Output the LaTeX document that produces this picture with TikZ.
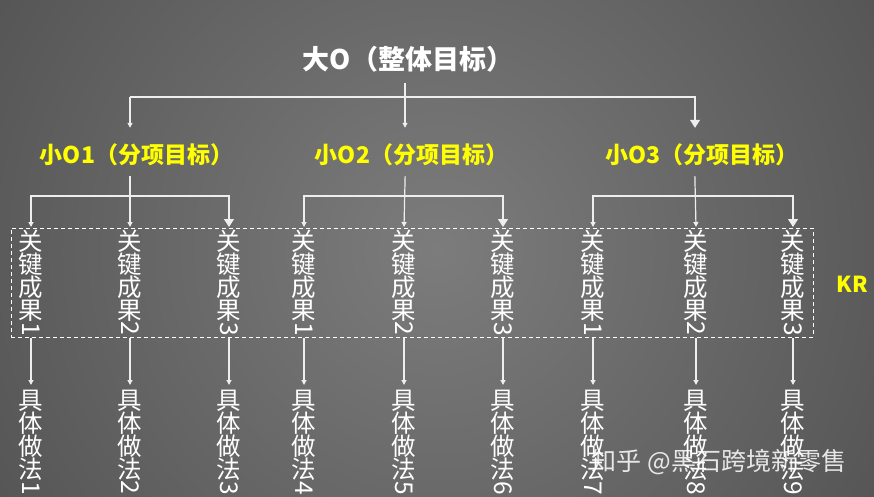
\documentclass[tikz,border=0pt]{standalone}
\usepackage{fontspec}
\setmainfont{Noto Sans CJK SC}
\usetikzlibrary{arrows.meta}
\definecolor{c0}{HTML}{7C7C7C}
\definecolor{c1}{HTML}{565656}
\definecolor{c2}{HTML}{232323}
\definecolor{c3}{HTML}{141414}
\definecolor{ylw}{RGB}{255,255,0}
\definecolor{lnc}{RGB}{238,238,238}
\pgfdeclareradialshading{bgshade}{\pgfpoint{0bp}{0bp}}{color(0bp)=(c0); color(25bp)=(c1); color(44bp)=(c2); color(50bp)=(c3)}
\newcommand{\vkr}[1]{关\\键\\成\\果\\[-5pt]\rotatebox[origin=c]{-90}{#1}}
\newcommand{\vzf}[1]{具\\体\\做\\法\\[-5pt]\rotatebox[origin=c]{-90}{#1}}
\tikzset{
  ttl/.style={inner sep=0pt, minimum height=48pt, text=white, font=\fontsize{27}{29}\selectfont\bfseries},
  lab/.style={inner sep=0pt, minimum height=54pt, text=ylw, font=\fontsize{23}{25}\selectfont\bfseries},
  vtxt/.style={anchor=north, inner sep=0pt, align=center, text=white, font=\fontsize{24.5}{23}\selectfont},
  ln/.style={draw=lnc, line width=1.2pt},
  arrS/.style={ln, -{Triangle[length=5pt,width=5pt]}},
  arrL/.style={ln, -{Triangle[length=8pt,width=10pt]}},
  dashbox/.style={draw=white, line width=1pt, dash pattern=on 4pt off 3pt, inner sep=0pt, minimum width=802pt, minimum height=109pt},
}
\begin{document}
\begin{tikzpicture}[x=1pt,y=-1pt]
\useasboundingbox (0,0) rectangle (874,497);
\begin{scope}
\clip (0,0) rectangle (874,497);
\shade[shading=bgshade] (-63,-250) rectangle (937,750);
\end{scope}

\node[ttl] (T) at (401,59) {大O（整体目标）\kern-14pt};
\node[lab] (O1) at (130,155) {小O1（分项目标）\kern-13pt};
\node[lab] (O2) at (405,155) {小O2（分项目标）\kern-13pt};
\node[lab] (O3) at (695,155) {小O3（分项目标）\kern-14pt};
\node[text=ylw, font=\fontsize{22}{24}\selectfont\bfseries, inner sep=0pt] (KRl) at (852,284) {KR};

\node[dashbox] (KR) at (412,282.5) {};

\foreach \i/\x/\n in {1/31/1,2/130/2,3/229/3,4/304/1,5/404/2,6/503/3,7/593/1,8/696/2,9/793/3}{
  \node[vtxt] (K\i) at (\x,230) {\vkr{\n}};
}
\foreach \i/\x in {1/31,2/130,3/229,4/304,5/404,6/503,7/593,8/696,9/793}{
  \node[vtxt] (P\i) at (\x,390) {\vzf{\i}};
  \draw[arrS] (KR.south -| K\i) -- ([yshift=5pt]P\i.north);
}

% top level
\draw[arrS] (T.south -| O2) -- (O2.north);
\draw[arrS] (O1 |- 0,97) -- (O1.north);
\draw[arrL] (O1 |- 0,97) -| (O3.north);

% groups
\foreach \o/\a/\b/\c in {O1/K1/K2/K3,O2/K4/K5/K6,O3/K7/K8/K9}{
  \draw[arrS, shorten <=-6pt] (\o.south) -- ([yshift=3pt]\b.north);
  \draw[arrS] (\b |- 0,196) -| ([yshift=3pt]\a.north);
  \draw[arrL] (\b |- 0,196) -| ([yshift=3pt]\c.north);
}

\node[text=white, opacity=0.85, inner sep=0pt, font=\fontsize{25}{27}\selectfont] (W) at (719,462) {知乎 @黑石跨境新零售};
\end{tikzpicture}
\end{document}
